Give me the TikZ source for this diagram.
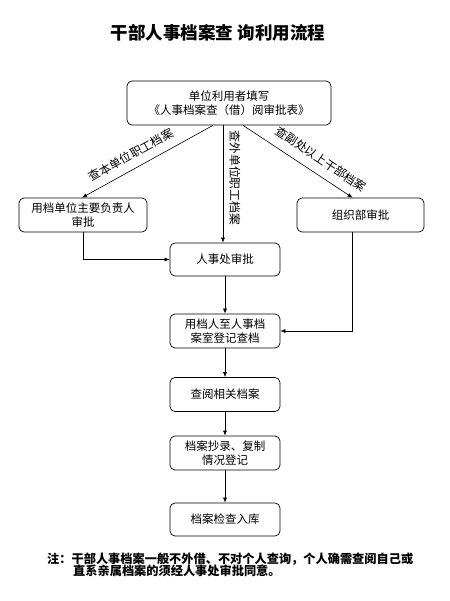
\documentclass[tikz,border=0pt]{standalone}
\usepackage{fontspec}
\setmainfont{Noto Sans CJK SC}
\usetikzlibrary{arrows.meta}
\begin{document}
\begin{tikzpicture}[x=1pt,y=-1pt,
  box/.style={draw, rounded corners=5pt, line width=0.7pt, align=center, inner sep=0pt,
    font=\fontsize{11.5}{14}\selectfont},
  arr/.style={-{Latex[length=5pt,width=4pt]}, line width=0.6pt},
  lbl/.style={inner sep=0pt, font=\fontsize{11.8}{14}\selectfont},
  note/.style={inner sep=0pt, anchor=west, font=\fontsize{12.2}{14}\selectfont\bfseries}]
\useasboundingbox (0,0) rectangle (449,601);
\fill[white] (0,0) rectangle (449,601);
\node[inner sep=0pt, font=\fontsize{17.5}{20}\selectfont\bfseries] (title) at (218,33) {干部人事档案查 询利用流程};
\node[box, minimum width=204pt, minimum height=44pt] (top) at (229,103) {单位利用者填写\\《人事档案查（借）阅审批表》};
\node[box, minimum width=128pt, minimum height=34pt] (left) at (83,215) {用档单位主要负责人\\审批};
\node[box, minimum width=127pt, minimum height=34pt] (right) at (360.5,215) {组织部审批};
\node[box, minimum width=110pt, minimum height=33pt] (rs) at (225,259.5) {人事处审批};
\node[box, minimum width=110pt, minimum height=34pt] (yd) at (225,331) {用档人至人事档\\案室登记查档};
\node[box, minimum width=110pt, minimum height=34pt] (cy) at (225,394.5) {查阅相关档案};
\node[box, minimum width=110pt, minimum height=34pt] (da) at (225,453) {档案抄录、复制\\情况登记};
\node[box, minimum width=110pt, minimum height=33pt] (dj) at (225,519.5) {档案检查入库};
\draw[arr] ([xshift=-16pt]top.south) -- ([xshift=-1pt]left.north);
\draw[arr] ([xshift=-2pt]rs.north |- top.south) -- ([xshift=-2pt]rs.north);
\draw[arr] ([xshift=14pt]top.south) -- ([xshift=-8pt]right.north);
\draw[arr] (left.south) |- (rs.west);
\draw[arr] ([xshift=-8pt]right.south) |- (yd.east);
\draw[arr] (rs) -- (yd);
\draw[arr] (yd) -- (cy);
\draw[arr] (cy) -- (da);
\draw[arr] (da) -- (dj);
\node[lbl, rotate=29] (l1) at (131,155) {查本单位职工档案};
\node[lbl, rotate=-34] (l2) at (321,159) {查副处以上干部档案};
\node[lbl, rotate=-90] (l3) at (235,178) {查外单位职工档案};
\node[note] (n1) at (47,559) {注：干部人事档案一般不外借、不对个人查询，个人确需查阅自己或};
\node[note] (n2) at (73,571) {直系亲属档案的须经人事处审批同意。};
\end{tikzpicture}
\end{document}
